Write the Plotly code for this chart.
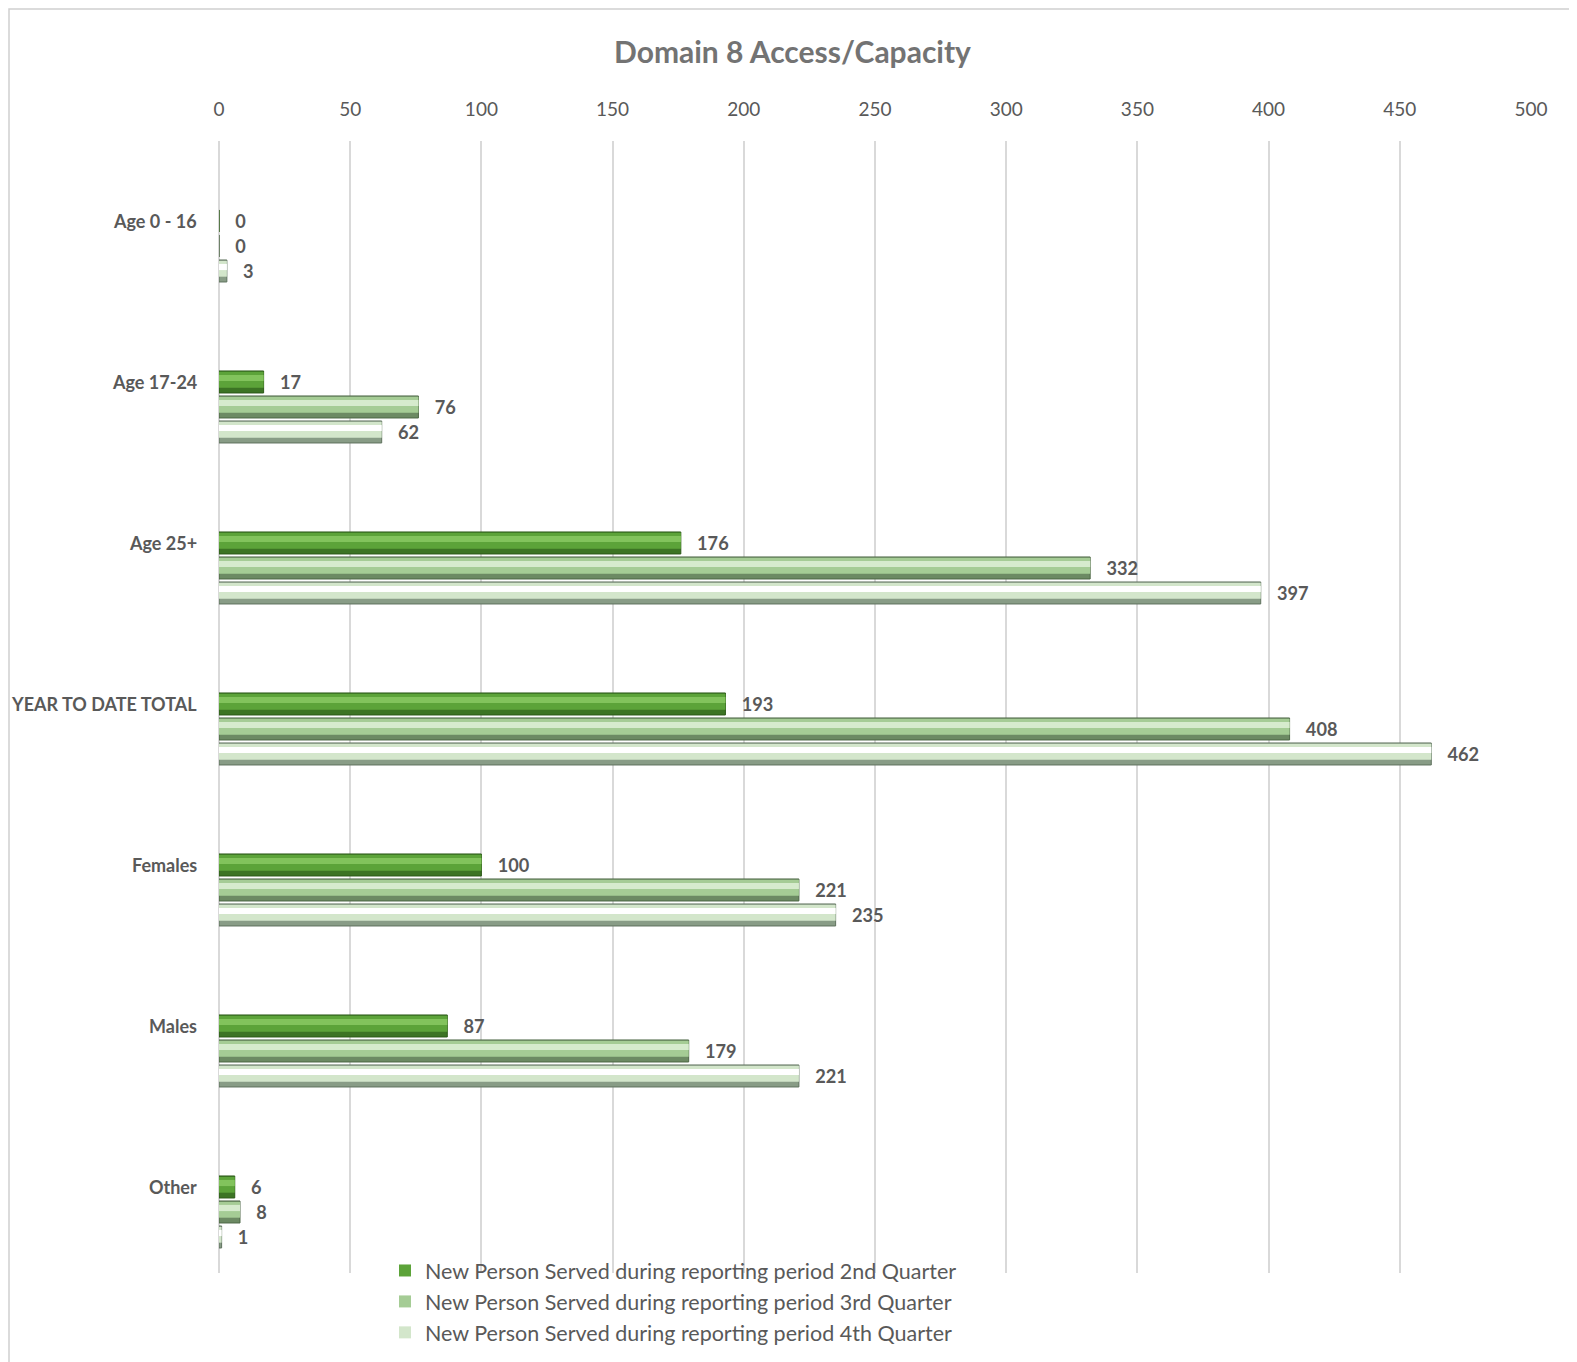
import plotly.graph_objects as go

categories = ["Age 0 - 16", "Age 17-24", "Age 25+", "YEAR TO DATE TOTAL", "Females", "Males", "Other"]
q2 = [0, 17, 176, 193, 100, 87, 6]
q3 = [0, 76, 332, 408, 221, 179, 8]
q4 = [3, 62, 397, 462, 235, 221, 1]
series_names = [
    "New Person Served during reporting period 2nd Quarter",
    "New Person Served during reporting period 3rd Quarter",
    "New Person Served during reporting period 4th Quarter",
]
x_ticks = [0, 50, 100, 150, 200, 250, 300, 350, 400, 450, 500]

FONT = "Lato, Open Sans, sans-serif"
# (dark bottom, body, highlight, outline) per series
palettes = [
    ("#3c7424", "#5ca339", "#82c35c", "#2c5a18"),
    ("#6c8a63", "#a5cc95", "#d6ebcd", "#4c6645"),
    ("#889c86", "#d3e6cb", "#ffffff", "#5f725e"),
]

W, H = 1577, 1362
L, R, T, B = 211, 54, 133, 97
PW, PH = W - L - R, H - T - B

BAND = 161.0                 # px per category
STRIDE = 25.0 / BAND         # spacing between series bars (category units)
BW = 22.0 / BAND             # bar thickness (category units)

y_lo = -0.652
y_hi = y_lo + PH / BAND

fig = go.Figure()
for i, (name, vals, pal) in enumerate(zip(series_names, [q2, q3, q4], palettes)):
    dark, body, light, edge = pal
    top = (i - 1) * STRIDE - BW / 2          # top edge (reversed axis) of this bar
    # base (full bar, dark bottom edge)
    fig.add_trace(go.Bar(
        y=categories, x=vals, orientation="h", showlegend=False,
        offset=top, width=BW,
        marker=dict(color=dark, line=dict(color=edge, width=1)),
        text=["   " + str(v) for v in vals], textposition="outside",
        textfont=dict(family=FONT, size=19, color="#595959", weight="bold"),
        cliponaxis=False, hoverinfo="skip",
    ))
    # body
    fig.add_trace(go.Bar(
        y=categories, x=vals, orientation="h", name=name, legendrank=i + 1,
        offset=top + 0.5, width=BW * 0.72,
        marker=dict(color=body, line=dict(color=edge, width=0)),
        textposition="none", cliponaxis=False,
    ))
    # highlight band
    fig.add_trace(go.Bar(
        y=categories, x=vals, orientation="h", showlegend=False,
        offset=top + BW * 0.18, width=BW * 0.28,
        marker=dict(color=light, line=dict(width=0)),
        textposition="none", cliponaxis=False, hoverinfo="skip",
    ))

# fix body offset (relative to bar top)
for k, tr in enumerate(fig.data):
    if k % 3 == 1:
        tr.offset = tr.offset - 0.5 + BW * 0.04

annotations = [
    dict(x=0, y=c, xref="x", yref="y", text="<b>" + c + "</b>", showarrow=False,
         xanchor="right", xshift=-20, yshift=STRIDE * BAND,
         font=dict(family=FONT, size=18, color="#595959"))
    for c in categories
]

fig.update_layout(
    width=W, height=H,
    paper_bgcolor="white", plot_bgcolor="white",
    barmode="overlay",
    margin=dict(l=L, r=R, t=T, b=B, autoexpand=False),
    title=dict(text="<b>Domain 8 Access/Capacity</b>", x=784.5 / W, xanchor="center",
               xref="container",
               y=1 - 44 / H, yanchor="middle",
               font=dict(family=FONT, size=30, color="#737373")),
    font=dict(family=FONT, color="#595959"),
    xaxis=dict(side="top", range=[0, 500], tickvals=x_ticks, showgrid=True,
               gridcolor="#d9d9d9", gridwidth=1.5, zeroline=True, zerolinecolor="#d9d9d9",
               zerolinewidth=1.5, automargin=False, ticklabelstandoff=20,
               tickfont=dict(family=FONT, size=19, color="#595959"), ticks="",
               fixedrange=True),
    yaxis=dict(range=[y_hi, y_lo], showgrid=False, ticks="", showticklabels=False,
               automargin=False, categoryorder="array", categoryarray=categories),
    annotations=annotations,
    legend=dict(orientation="v", xref="container", x=377 / W, xanchor="left",
                yref="container", y=1 - 1242 / H, yanchor="top", traceorder="normal",
                font=dict(family=FONT, size=21.5, color="#595959"),
                bgcolor="rgba(0,0,0,0)", itemwidth=30, tracegroupgap=0),
    showlegend=True,
)
fig.add_shape(type="rect", xref="paper", yref="paper",
              x0=(1 - L) / PW, x1=(1566 - L) / PW,
              y0=-(1355 - T - PH) / PH, y1=1 + (T - 1) / PH,
              line=dict(color="#d0d0d0", width=1.5), fillcolor="rgba(0,0,0,0)", layer="below")

fig.write_html("out.html")
